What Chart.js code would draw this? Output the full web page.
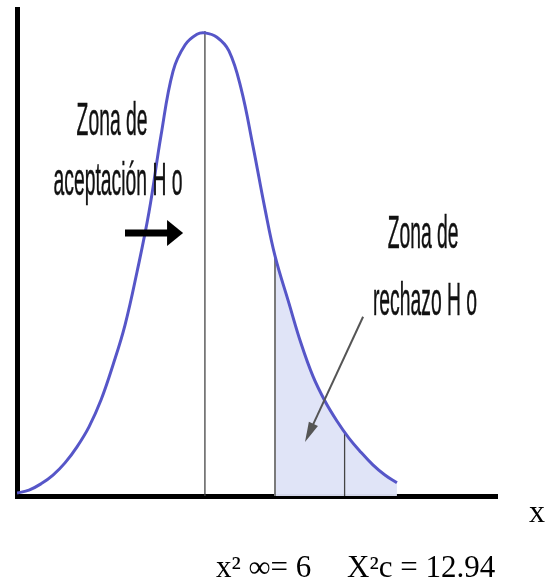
<!DOCTYPE html>
<html><head><meta charset="utf-8">
<script src="https://cdn.jsdelivr.net/npm/chart.js@4.4.1/dist/chart.umd.min.js"></script>
<style>html,body{margin:0;padding:0;background:#fff;overflow:hidden}canvas{display:block}</style>
</head><body>
<canvas id="c" width="545" height="582"></canvas>
<script>
// ---- data ----
const curveX = [0, 0.5, 1.0, 1.5, 2.0, 2.5, 3.0, 3.5, 4.0, 4.5, 5.0, 5.5, 6.0, 6.5, 7.0, 7.5, 7.83, 8.33, 8.83, 9.33, 9.83, 10.33, 10.75, 11.33, 11.83, 12.33, 12.83, 13.33, 13.83, 14.33, 14.83, 15.33, 15.83];
const curveY = [0.006, 0.012, 0.025, 0.043, 0.068, 0.101, 0.142, 0.197, 0.269, 0.351, 0.460, 0.583, 0.740, 0.872, 0.926, 0.948, 0.951, 0.942, 0.914, 0.838, 0.719, 0.590, 0.493, 0.396, 0.314, 0.246, 0.195, 0.154, 0.119, 0.090, 0.064, 0.043, 0.027];
const criticalX = 10.75;                 // start of the rejection zone
const refLineX = [7.83, 10.75, 13.65];   // vertical reference lines
const refLineTop = [0.955, 0.493, 0.131];
const zoneLeftLabel = ['Zona de', 'aceptación H o'];
const zoneRightLabel = ['Zona de', 'rechazo H o'];
const axisLabel = 'x';
const bottomLabels = ['x² ∞= 6', 'X²c = 12.94'];

// ---- build datasets ----
const curvePts = curveX.map((x, i) => ({x, y: curveY[i]}));
const shadePts = curvePts.filter(p => p.x >= criticalX);

const datasets = [
  {data: curvePts, borderColor: '#5656c8', borderWidth: 3, pointRadius: 0, fill: false, tension: 0.4}
];
refLineX.forEach((x, i) => datasets.push({
  data: [{x, y: 0}, {x, y: refLineTop[i]}],
  borderColor: i === 1 ? '#7a7a7a' : '#444', borderWidth: i === 1 ? 2 : 1.3, pointRadius: 0, fill: false, tension: 0
}));
datasets.push({data: shadePts, borderWidth: 0, borderColor: 'rgba(0,0,0,0)', backgroundColor: 'rgba(222,227,247,0.95)',
  pointRadius: 0, fill: 'origin', tension: 0.4});

// ---- annotations (text and arrows) in data coordinates ----
const annot = {
  leftText: [{x: 3.96, y: 0.741}, {x: 4.21, y: 0.618}],
  rightText: [{x: 16.92, y: 0.509}, {x: 17.0, y: 0.372}],
  leftArrow: {from: {x: 4.5, y: 0.54}, to: {x: 6.92, y: 0.54}},
  rightArrow: {from: {x: 14.42, y: 0.368}, to: {x: 12.0, y: 0.111}},
  axisLabel: {x: 21.33, dy: 26},
  bottom: [{x: 8.29, dy: 81}, {x: 13.75, dy: 81}]
};

function condText(ctx, str, cx, base, size, sx) {
  ctx.save();
  ctx.translate(cx, base);
  ctx.scale(sx, 1);
  ctx.font = size + 'px "Liberation Sans", Arial, sans-serif';
  ctx.textAlign = 'center';
  ctx.textBaseline = 'alphabetic';
  ctx.fillStyle = '#111';
  ctx.strokeStyle = '#111';
  ctx.lineWidth = 0.5;
  ctx.fillText(str, 0, 0);
  ctx.strokeText(str, 0, 0);
  ctx.restore();
}

const annotPlugin = {
  id: 'annot',
  afterDatasetsDraw(chart) {
    const {ctx, scales: {x: xs, y: ys}} = chart;
    const px = v => xs.getPixelForValue(v), py = v => ys.getPixelForValue(v);
    zoneLeftLabel.forEach((t, i) => condText(ctx, t, px(annot.leftText[i].x), py(annot.leftText[i].y), 46, 0.42));
    zoneRightLabel.forEach((t, i) => condText(ctx, t, px(annot.rightText[i].x), py(annot.rightText[i].y), 46, 0.42));
    ctx.save();
    const la = annot.leftArrow;
    const lx1 = px(la.from.x), lx2 = px(la.to.x), ly = py(la.from.y);
    ctx.strokeStyle = '#000'; ctx.fillStyle = '#000'; ctx.lineWidth = 7;
    ctx.beginPath(); ctx.moveTo(lx1, ly); ctx.lineTo(lx2 - 12, ly); ctx.stroke();
    ctx.beginPath(); ctx.moveTo(lx2, ly); ctx.lineTo(lx2 - 16, ly - 13); ctx.lineTo(lx2 - 16, ly + 13); ctx.closePath(); ctx.fill();
    const ra = annot.rightArrow;
    const ax1 = px(ra.from.x), ay1 = py(ra.from.y), ax2 = px(ra.to.x), ay2 = py(ra.to.y);
    const ang = Math.atan2(ay2 - ay1, ax2 - ax1);
    ctx.strokeStyle = '#555'; ctx.fillStyle = '#555'; ctx.lineWidth = 2;
    ctx.beginPath(); ctx.moveTo(ax1, ay1); ctx.lineTo(ax2 - 10 * Math.cos(ang), ay2 - 10 * Math.sin(ang)); ctx.stroke();
    ctx.translate(ax2, ay2); ctx.rotate(ang);
    ctx.beginPath(); ctx.moveTo(0, 0); ctx.lineTo(-20, -5); ctx.lineTo(-20, 5); ctx.closePath(); ctx.fill();
    ctx.restore();
    ctx.save();
    const base = chart.chartArea.bottom;
    ctx.fillStyle = '#000';
    ctx.textAlign = 'left'; ctx.textBaseline = 'alphabetic';
    ctx.font = '32px "Liberation Serif", "Times New Roman", serif';
    ctx.fillText(axisLabel, px(annot.axisLabel.x), base + annot.axisLabel.dy);
    ctx.font = '31px "Liberation Serif", "Times New Roman", serif';
    bottomLabels.forEach((t, i) => ctx.fillText(t, px(annot.bottom[i].x), base + annot.bottom[i].dy));
    ctx.restore();
  }
};

new Chart(document.getElementById('c'), {
  type: 'line',
  data: {datasets},
  options: {
    responsive: false,
    animation: false,
    devicePixelRatio: 1,
    layout: {padding: {left: 17, top: 9, right: 48, bottom: 86}},
    plugins: {legend: {display: false}, tooltip: {enabled: false}},
    scales: {
      x: {type: 'linear', min: 0, max: 20,
        ticks: {display: false}, grid: {display: false, drawTicks: false, tickLength: 0},
        border: {display: true, color: '#000', width: 5}},
      y: {type: 'linear', min: 0, max: 1,
        ticks: {display: false}, grid: {display: false, drawTicks: false, tickLength: 0},
        border: {display: true, color: '#000', width: 5}}
    }
  },
  plugins: [annotPlugin]
});
</script>
</body></html>
